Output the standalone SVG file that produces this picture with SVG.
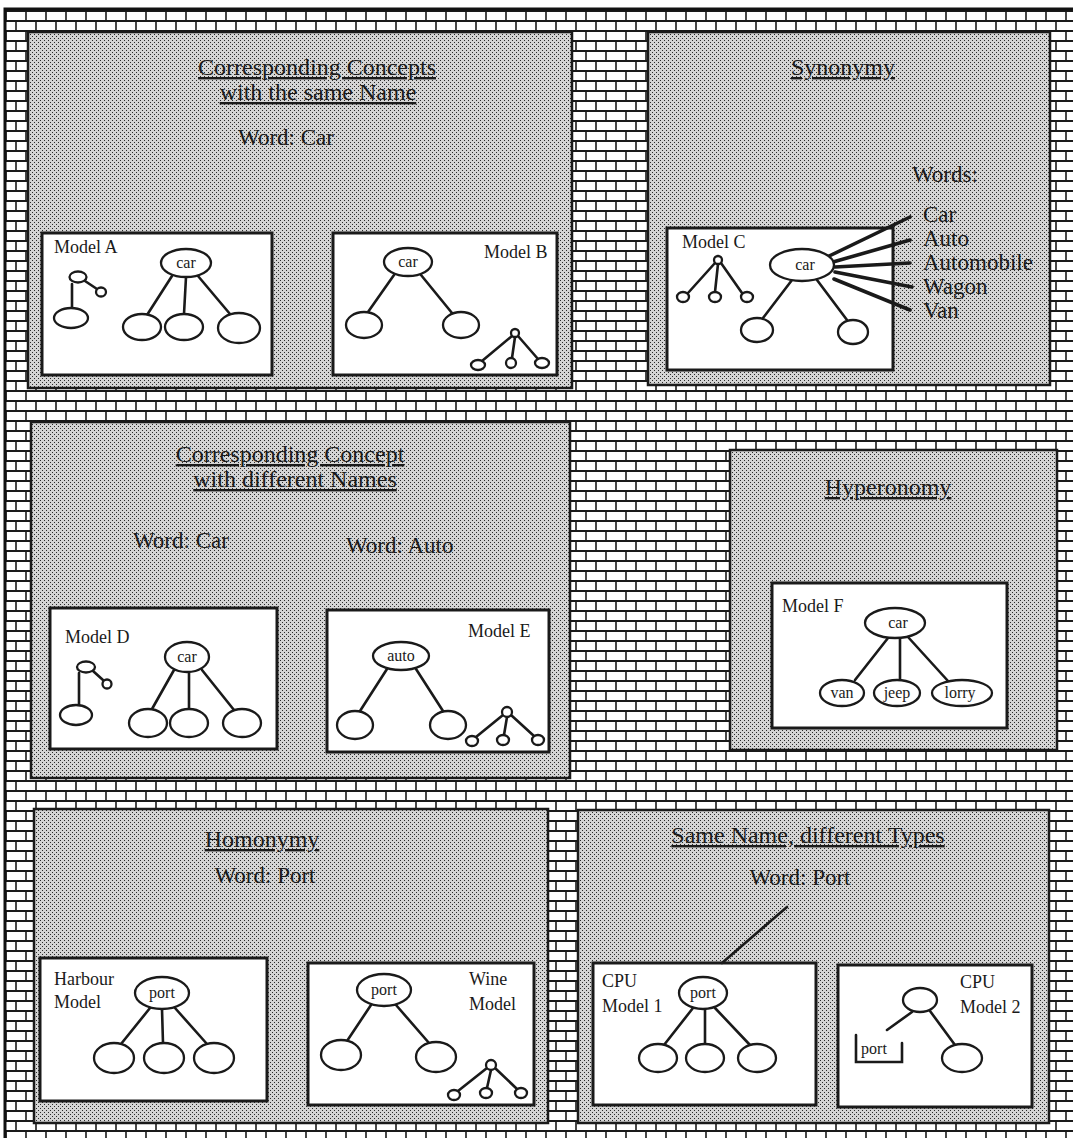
<svg xmlns="http://www.w3.org/2000/svg" width="1073" height="1138" viewBox="0 0 1073 1138">
<style>
.panel{fill:url(#stip);stroke:#1a1a1a;stroke-width:2.5}
.box{fill:#fff;stroke:#1a1a1a;stroke-width:3}
.n{fill:#fff;stroke:#1a1a1a;stroke-width:2.3}
.c{stroke:#1a1a1a;stroke-width:2.6;fill:none;stroke-linecap:round}
.cw{stroke:#1a1a1a;stroke-width:3.6;fill:none;stroke-linecap:round}
text{font-family:"Liberation Serif","Times New Roman",serif;fill:#1a1a1a}
.title{font-size:24px;text-anchor:middle;text-decoration:underline}
.word{font-size:23px}
.wm{font-size:23px;text-anchor:middle}
.lbl{font-size:18px}
.nl{font-size:16px;text-anchor:middle}
</style>
<defs>
<pattern id="brick" width="20" height="20" patternUnits="userSpaceOnUse" x="5" y="10">
<rect width="20" height="20" fill="#fff"/>
<path d="M0 1H20M0 11H20" stroke="#1a1a1a" stroke-width="1.9"/>
<path d="M1 1V11M11 11V21" stroke="#1a1a1a" stroke-width="1.6"/>
</pattern>
<pattern id="stip" width="4" height="4" patternUnits="userSpaceOnUse">
<rect width="4" height="4" fill="#d4d4d4"/>
<rect width="1" height="1" fill="#2a2a2a"/>
<rect x="2" y="2" width="1" height="1" fill="#2a2a2a"/>
</pattern>
</defs>
<rect width="1073" height="1138" fill="#fff"/>
<g id="wall">
<rect x="5" y="9" width="1068" height="1129" fill="url(#brick)"/>
<path d="M5 1138V9H1073" fill="none" stroke="#111" stroke-width="3"/>
</g>

<!-- Panel 1 -->
<g id="panel-same-name">
<rect class="panel" x="28" y="32" width="544" height="356"/>
<text class="title" x="317" y="75">Corresponding Concepts</text>
<text class="title" x="318" y="100">with the same Name</text>
<text class="wm" x="286" y="145">Word: Car</text>
</g>
<g id="model-a">
<rect class="box" x="42" y="233" width="230" height="142"/>
<text class="lbl" x="54" y="253">Model A</text>
</g>
<g id="model-b">
<rect class="box" x="333" y="233" width="224" height="142"/>
<text class="lbl" x="484" y="258">Model B</text>
</g>

<!-- Panel 2 -->
<g id="panel-synonymy">
<rect class="panel" x="648" y="32" width="402" height="353"/>
<text class="title" x="843" y="75">Synonymy</text>
<text class="word" x="912" y="182">Words:</text>
</g>
<g id="word-car"><text class="word" x="923" y="222">Car</text></g>
<g id="word-auto"><text class="word" x="923" y="246">Auto</text></g>
<g id="word-automobile"><text class="word" x="923" y="270">Automobile</text></g>
<g id="word-wagon"><text class="word" x="923" y="294">Wagon</text></g>
<g id="word-van"><text class="word" x="923" y="318">Van</text></g>
<g id="model-c">
<rect class="box" x="667" y="228" width="226" height="142"/>
<text class="lbl" x="682" y="248">Model C</text>
</g>

<!-- Panel 3 -->
<g id="panel-different-names">
<rect class="panel" x="31" y="422" width="539" height="356"/>
<text class="title" x="290" y="462">Corresponding Concept</text>
<text class="title" x="295" y="487">with different Names</text>
<text class="word" x="133" y="548">Word: Car</text>
<text class="word" x="346" y="553">Word: Auto</text>
</g>
<g id="model-d">
<rect class="box" x="50" y="608" width="227" height="141"/>
<text class="lbl" x="65" y="643">Model D</text>
</g>
<g id="model-e">
<rect class="box" x="327" y="610" width="222" height="142"/>
<text class="lbl" x="468" y="637">Model E</text>
</g>

<!-- Panel 4 -->
<g id="panel-hyperonomy">
<rect class="panel" x="730" y="450" width="327" height="300"/>
<text class="title" x="888" y="495">Hyperonomy</text>
</g>
<g id="model-f">
<rect class="box" x="772" y="583" width="235" height="145"/>
<text class="lbl" x="782" y="612">Model F</text>
</g>

<!-- Panel 5 -->
<g id="panel-homonymy">
<rect class="panel" x="34" y="809" width="514" height="314"/>
<text class="title" x="262" y="847">Homonymy</text>
<text class="wm" x="265" y="883">Word: Port</text>
</g>
<g id="harbour-model">
<rect class="box" x="40" y="958" width="227" height="143"/>
<text class="lbl" x="54" y="985">Harbour</text>
<text class="lbl" x="54" y="1008">Model</text>
</g>
<g id="wine-model">
<rect class="box" x="308" y="963" width="226" height="142"/>
<text class="lbl" x="469" y="985">Wine</text>
<text class="lbl" x="469" y="1010">Model</text>
</g>

<!-- Panel 6 -->
<g id="panel-types">
<rect class="panel" x="578" y="810" width="471" height="313"/>
<text class="title" x="808" y="843">Same Name, different Types</text>
<text class="wm" x="800" y="885">Word: Port</text>
</g>
<g id="cpu-model-1">
<rect class="box" x="593" y="963" width="223" height="142"/>
<text class="lbl" x="602" y="987">CPU</text>
<text class="lbl" x="602" y="1012">Model 1</text>
</g>
<g id="cpu-model-2">
<rect class="box" x="838" y="965" width="194" height="142"/>
<text class="lbl" x="960" y="988">CPU</text>
<text class="lbl" x="960" y="1013">Model 2</text>
</g>

<!-- Connectors -->
<g id="connectors">
<path class="c" d="M85 281L97 289M72 284V308M172 276L147 315M186 277L184 314M198 276L230 314"/>
<path class="c" d="M394 275L368 312M421 275L452 313M512 336L482 361M515 337L512 358M518 336L538 359"/>
<path class="c" d="M792 280L763 318M817 280L847 320M715 263L688 293M718 264L715 292M721 263L742 293"/>
<path class="cw" d="M827 257L910 217M833 262L910 240M835 267L910 263M835 272L912 287M834 279L910 310"/>
<path class="c" d="M93 671L103 680M79 673V705M174 670L152 709M189 672V709M202 670L234 710"/>
<path class="c" d="M387 669L360 711M416 669L443 711M503 715L476 737M507 717L504 735M511 715L534 736"/>
<path class="c" d="M888 638L855 680M900 638V680M908 637L948 681"/>
<path class="c" d="M150 1008L121 1044M162 1009L163 1043M175 1008L207 1044"/>
<path class="c" d="M371 1005L347 1041M396 1005L429 1043M487 1068L458 1091M491 1070L487 1088M495 1068L517 1089"/>
<path class="c" d="M787 907L722 963"/>
<path class="c" d="M693 1008L664 1045M705 1009V1044M715 1008L750 1045"/>
<path class="c" d="M912 1012L887 1030M930 1011L955 1045"/>
</g>

<!-- Nodes -->
<g id="a-car"><ellipse class="n" cx="186" cy="263" rx="25" ry="14"/><text class="nl" x="186" y="268">car</text></g>
<g id="a-n1"><ellipse class="n" cx="78" cy="277" rx="8.5" ry="5.5"/></g>
<g id="a-n2"><ellipse class="n" cx="101" cy="292" rx="5" ry="4.5"/></g>
<g id="a-n3"><ellipse class="n" cx="71" cy="318" rx="17" ry="10"/></g>
<g id="a-n4"><ellipse class="n" cx="142" cy="327" rx="19" ry="13"/></g>
<g id="a-n5"><ellipse class="n" cx="184" cy="327" rx="19" ry="13"/></g>
<g id="a-n6"><ellipse class="n" cx="239" cy="328" rx="21" ry="15"/></g>

<g id="b-car"><ellipse class="n" cx="408" cy="262" rx="24" ry="14"/><text class="nl" x="408" y="267">car</text></g>
<g id="b-n1"><ellipse class="n" cx="364" cy="325" rx="18" ry="13"/></g>
<g id="b-n2"><ellipse class="n" cx="461" cy="325" rx="18" ry="13"/></g>
<g id="b-t0"><circle class="n" cx="515" cy="333" r="4"/></g>
<g id="b-t1"><ellipse class="n" cx="478" cy="365" rx="7" ry="5"/></g>
<g id="b-t2"><ellipse class="n" cx="511" cy="363" rx="5" ry="5"/></g>
<g id="b-t3"><ellipse class="n" cx="542" cy="363" rx="7" ry="5"/></g>

<g id="c-car"><ellipse class="n" cx="802" cy="265" rx="32" ry="16"/><text class="nl" x="805" y="270">car</text></g>
<g id="c-n1"><ellipse class="n" cx="757" cy="330" rx="16" ry="12"/></g>
<g id="c-n2"><ellipse class="n" cx="853" cy="332" rx="15" ry="12"/></g>
<g id="c-t0"><circle class="n" cx="718" cy="260" r="4"/></g>
<g id="c-t1"><ellipse class="n" cx="683" cy="297" rx="6" ry="5"/></g>
<g id="c-t2"><ellipse class="n" cx="715" cy="297" rx="6" ry="5"/></g>
<g id="c-t3"><ellipse class="n" cx="747" cy="297" rx="6" ry="5"/></g>

<g id="d-car"><ellipse class="n" cx="187" cy="657" rx="22" ry="15"/><text class="nl" x="187" y="662">car</text></g>
<g id="d-n1"><ellipse class="n" cx="86" cy="667" rx="9" ry="5.5"/></g>
<g id="d-n2"><circle class="n" cx="107" cy="684" r="4.5"/></g>
<g id="d-n3"><ellipse class="n" cx="76" cy="715" rx="16" ry="10"/></g>
<g id="d-n4"><ellipse class="n" cx="148" cy="723" rx="19" ry="14"/></g>
<g id="d-n5"><ellipse class="n" cx="189" cy="723" rx="19" ry="14"/></g>
<g id="d-n6"><ellipse class="n" cx="242" cy="723" rx="19" ry="14"/></g>

<g id="e-auto"><ellipse class="n" cx="401" cy="656" rx="28" ry="14"/><text class="nl" x="401" y="661">auto</text></g>
<g id="e-n1"><ellipse class="n" cx="355" cy="725" rx="18" ry="14"/></g>
<g id="e-n2"><ellipse class="n" cx="448" cy="725" rx="18" ry="14"/></g>
<g id="e-t0"><circle class="n" cx="507" cy="712" r="5"/></g>
<g id="e-t1"><ellipse class="n" cx="472" cy="741" rx="6" ry="5"/></g>
<g id="e-t2"><ellipse class="n" cx="503" cy="740" rx="6" ry="5"/></g>
<g id="e-t3"><ellipse class="n" cx="538" cy="740" rx="6" ry="5"/></g>

<g id="f-car"><ellipse class="n" cx="895" cy="623" rx="30" ry="15"/><text class="nl" x="898" y="628">car</text></g>
<g id="f-van"><ellipse class="n" cx="842" cy="693" rx="22" ry="13"/><text class="nl" x="842" y="698">van</text></g>
<g id="f-jeep"><ellipse class="n" cx="897" cy="693" rx="23" ry="13"/><text class="nl" x="897" y="698">jeep</text></g>
<g id="f-lorry"><ellipse class="n" cx="962" cy="693" rx="30" ry="13"/><text class="nl" x="960" y="698">lorry</text></g>

<g id="h-port"><ellipse class="n" cx="162" cy="993" rx="27" ry="16"/><text class="nl" x="162" y="998">port</text></g>
<g id="h-n1"><ellipse class="n" cx="114" cy="1058" rx="20" ry="15"/></g>
<g id="h-n2"><ellipse class="n" cx="164" cy="1058" rx="20" ry="15"/></g>
<g id="h-n3"><ellipse class="n" cx="214" cy="1058" rx="20" ry="15"/></g>

<g id="w-port"><ellipse class="n" cx="384" cy="990" rx="27" ry="16"/><text class="nl" x="384" y="995">port</text></g>
<g id="w-n1"><ellipse class="n" cx="341" cy="1055" rx="20" ry="15"/></g>
<g id="w-n2"><ellipse class="n" cx="436" cy="1057" rx="20" ry="15"/></g>
<g id="w-t0"><circle class="n" cx="491" cy="1065" r="5"/></g>
<g id="w-t1"><ellipse class="n" cx="454" cy="1095" rx="6" ry="5"/></g>
<g id="w-t2"><ellipse class="n" cx="486" cy="1093" rx="6" ry="5"/></g>
<g id="w-t3"><ellipse class="n" cx="521" cy="1093" rx="6" ry="5"/></g>

<g id="q-port"><ellipse class="n" cx="703" cy="993" rx="24" ry="16"/><text class="nl" x="703" y="998">port</text></g>
<g id="q-n1"><ellipse class="n" cx="658" cy="1058" rx="19" ry="14"/></g>
<g id="q-n2"><ellipse class="n" cx="705" cy="1058" rx="19" ry="14"/></g>
<g id="q-n3"><ellipse class="n" cx="757" cy="1058" rx="19" ry="14"/></g>

<g id="r-top"><ellipse class="n" cx="920" cy="1000" rx="17" ry="12"/></g>
<g id="r-n1"><ellipse class="n" cx="962" cy="1058" rx="20" ry="14"/></g>
<g id="r-port"><path class="c" d="M856 1035V1062H902V1043" stroke-linecap="butt"/><text class="nl" x="874" y="1054">port</text></g>
</svg>
